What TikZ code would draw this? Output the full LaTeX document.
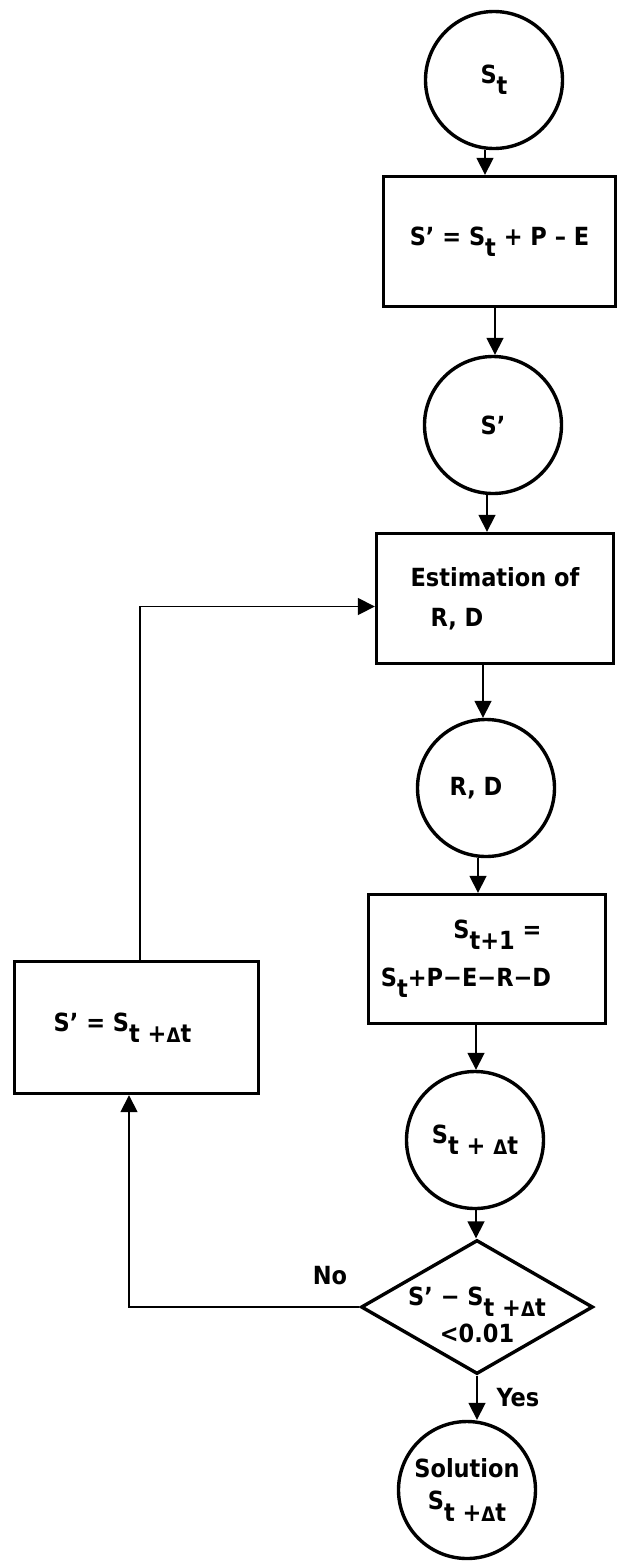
\documentclass[tikz,border=0pt]{standalone}
\usepackage{fontspec}
\setmainfont{DejaVu Sans Condensed Bold}
\usetikzlibrary{arrows.meta,shapes.geometric}
\newcommand\sbt[1]{\raisebox{-0.45em}{#1}}
\newcommand\dlt{{\fontsize{20}{20}\selectfont Δ}}
\newcommand\lowr[1]{\raisebox{-16.5pt}[0pt][0pt]{#1}}
\begin{document}
\begin{tikzpicture}[x=1pt,y=-1pt,
  circ/.style={circle, draw, line width=3.4pt, minimum size=137pt, inner sep=0pt, align=center},
  stepbox/.style={rectangle, draw, line width=3.4pt, inner sep=0pt},
  dec/.style={diamond, aspect=1.72, draw, line width=3.4pt, inner sep=0pt, minimum width=232pt, minimum height=134pt, align=center},
  arr/.style={line width=1.7pt, -{Triangle[length=17pt,width=17pt]}},
  lbl/.style={inner sep=0pt},
  fs/.style={font={\fontsize{25}{#1}\selectfont\lineskiplimit=-60pt}},
  fs/.default=30]
\useasboundingbox (0,0) rectangle (619,1564);

% main column
\node[circ,fs] (c1) at (494,80) {S\sbt{t}};
\node[stepbox,fs,minimum width=232pt,minimum height=130pt] (b1) at (499.5,241.5) {S’ = S\sbt{t} + P – E};
\node[circ,fs] (c2) at (493,425) {S’};
\node[stepbox,fs=40,align=left,minimum width=237pt,minimum height=130pt] (b2) at (495,598.5) {Estimation of\\\hspace*{0.8em}R, D};
\node[circ,fs] (c3) at (486,788) {R, D\hspace*{20pt}};
\node[stepbox,fs=48,align=left,minimum width=237pt,minimum height=129pt] (b3) at (487,959) {\hspace*{2.9em}S\sbt{t+1} =\\S\sbt{t}+P−E−R−D\hspace*{42pt}};
\node[circ,fs] (c4) at (475,1140) {S\sbt{t + \dlt t}};
\node[dec,fs=37] (d) at (477,1307) {\lowr{S’ − S\sbt{t +\dlt t}}\\\lowr{<0.01}};
\node[circ,fs=32] (c5) at (467,1490) {Solution\\S\sbt{t +\dlt t}};

% loop box
\node[stepbox,fs,minimum width=244pt,minimum height=132pt] (b4) at (136.5,1027.5) {S’ = S\sbt{t +\dlt t}\hspace*{28pt}};

% labels
\node[lbl,fs] (no) at (330,1276) {No};
\node[lbl,fs] (yes) at (518,1398) {Yes};

% connector start points
\coordinate (a1) at ([xshift=-9pt]c1.south);
\coordinate (a2) at ([xshift=-4.5pt]b1.south);
\coordinate (a3) at ([xshift=-6pt]c2.south);
\coordinate (a4) at ([xshift=-12pt]b2.south);
\coordinate (a5) at ([xshift=-8pt]c3.south);
\coordinate (a6) at ([xshift=-11pt]b3.south);
\coordinate (a7) at ([xshift=1pt]c4.south);

\draw[arr] (a1) -- (a1 |- b1.north);
\draw[arr] (a2) -- (a2 |- c2.north);
\draw[arr] (a3) -- (a3 |- b2.north);
\draw[arr] (a4) -- (a4 |- c3.north);
\draw[arr] (a5) -- (a5 |- b3.north);
\draw[arr] (a6) -- (a6 |- c4.north);
\draw[arr] (a7) -- (a7 |- d.north);
\draw[arr] (d.south) -- (d.south |- c5.north);

% loop back
\draw[arr] (d.west) -| ([xshift=-7.5pt]b4.south);
\draw[arr] ([xshift=3.5pt]b4.north) |- ([yshift=-8pt]b2.west);
\end{tikzpicture}
\end{document}
